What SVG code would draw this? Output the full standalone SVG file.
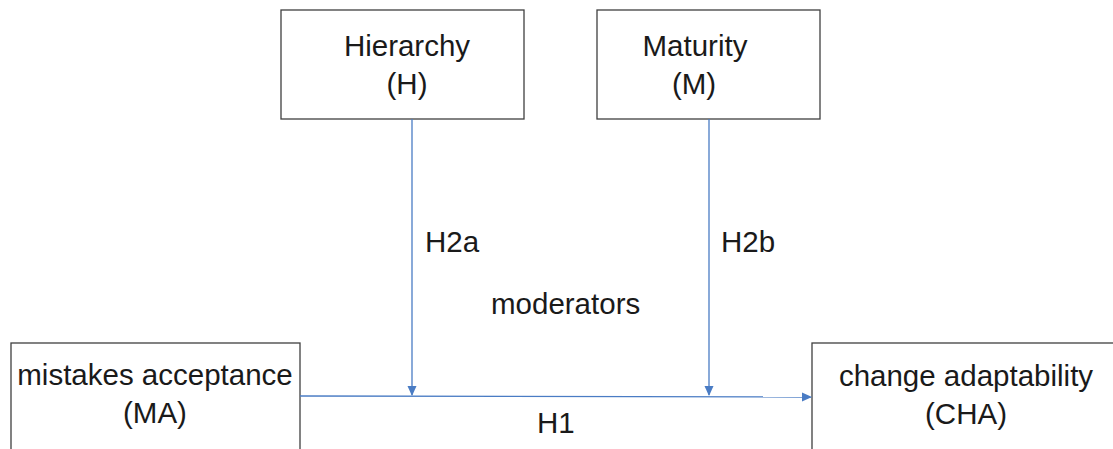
<svg xmlns="http://www.w3.org/2000/svg" width="1113" height="449" viewBox="0 0 1113 449">
<style>
.box{fill:#fff;stroke:#3f3f3f;stroke-width:1.3}
.t{font-family:"Liberation Sans",Arial,sans-serif;font-size:29.5px;fill:#1a1a1a}
.c{text-anchor:middle}
.ln{stroke:#4a7cc4;stroke-width:1.3;fill:none}
</style>
<defs>
<marker id="ah" markerWidth="10" markerHeight="10" refX="9" refY="5" orient="auto" markerUnits="userSpaceOnUse">
<path d="M0,0.5 L10,5 L0,9.5 z" fill="#4a7cc4"/>
</marker>
</defs>
<rect width="1113" height="449" fill="#fff"/>
<g id="node-H">
<rect class="box" x="281" y="10" width="243" height="109"/>
<text class="t c" x="407" y="56">Hierarchy</text>
<text class="t c" x="407" y="94">(H)</text>
</g>
<g id="node-M">
<rect class="box" x="597" y="10" width="223" height="109"/>
<text class="t c" x="695" y="56">Maturity</text>
<text class="t c" x="694" y="94">(M)</text>
</g>
<g id="node-MA">
<rect class="box" x="11" y="343" width="289" height="120"/>
<text class="t c" x="155" y="385">mistakes acceptance</text>
<text class="t c" x="155" y="423">(MA)</text>
</g>
<g id="node-CHA">
<rect class="box" x="812" y="343" width="320" height="120"/>
<text class="t c" x="966" y="386">change adaptability</text>
<text class="t c" x="966" y="424">(CHA)</text>
</g>
<g id="connectors">
<line class="ln" x1="300" y1="396" x2="811" y2="397" marker-end="url(#ah)"/>
<line class="ln" x1="412" y1="119" x2="412" y2="395" marker-end="url(#ah)"/>
<line class="ln" x1="709" y1="119" x2="709" y2="395" marker-end="url(#ah)"/>
</g>
<text class="t" x="425" y="252">H2a</text>
<text class="t" x="721" y="252">H2b</text>
<text class="t" x="491" y="314">moderators</text>
<text class="t" x="537" y="433">H1</text>
</svg>
